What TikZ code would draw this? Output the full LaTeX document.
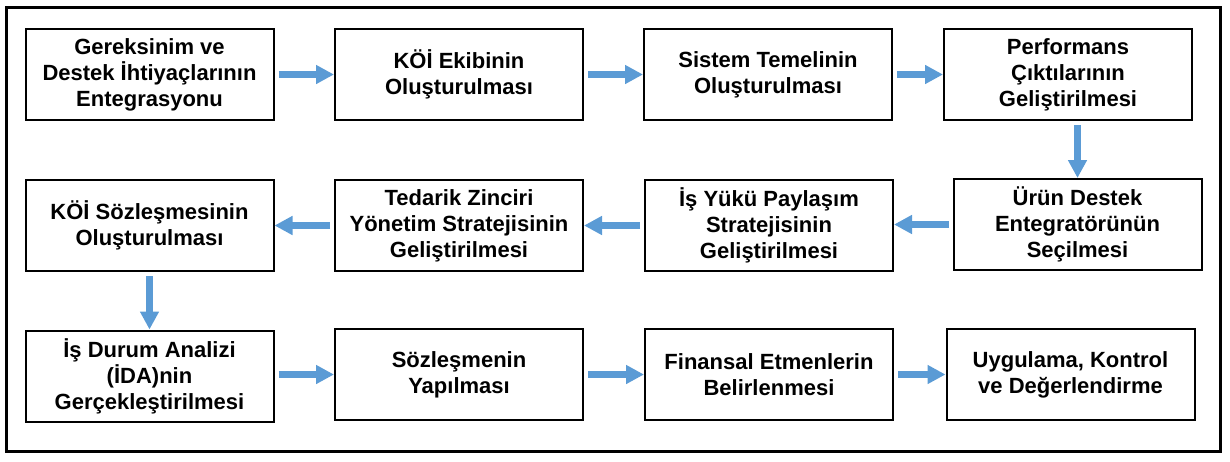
\documentclass[tikz,border=0pt]{standalone}
\usepackage{fontspec}
\setmainfont{Liberation Sans}
\usetikzlibrary{arrows.meta}
\definecolor{flowblue}{RGB}{91,155,213}
\tikzset{>={Triangle[length=9pt,width=9pt]}}

\begin{document}
\begin{tikzpicture}[
    x=0.5pt,y=-0.5pt,
    step box/.style={draw,line width=1pt,minimum width=124pt,minimum height=45.5pt,
      align=center,font=\bfseries\fontsize{11pt}{13pt}\selectfont,inner sep=0pt},
    flow/.style={->,flowblue,line width=3.4pt,shorten <=2pt}
  ]
  \useasboundingbox (0,0) rectangle (1230,461);
  % frame
  \draw[line width=1.5pt] (6,7) rectangle (1220,451);
  % first row
  \node[step box] (needs) at (149.5,74.5) {Gereksinim ve\\Destek İhtiyaçlarının\\Entegrasyonu};
  \node[step box] (team) at (459,74.5) {KÖİ Ekibinin\\Oluşturulması};
  \node[step box] (base) at (768,74.5) {Sistem Temelinin\\Oluşturulması};
  \node[step box] (perf) at (1068,74.5) {Performans\\Çıktılarının\\Geliştirilmesi};
  % second row
  \node[step box] (integrator) at (1077.5,224.5) {Ürün Destek\\Entegratörünün\\Seçilmesi};
  \node[step box] (workload) at (769,225.5) {İş Yükü Paylaşım\\Stratejisinin\\Geliştirilmesi};
  \node[step box] (supply) at (459,225.5) {Tedarik Zinciri\\Yönetim Stratejisinin\\Geliştirilmesi};
  \node[step box] (contract) at (149.5,225.5) {KÖİ Sözleşmesinin\\Oluşturulması};
  % third row
  \node[step box] (analysis) at (149.5,376) {İş Durum Analizi\\(İDA)nin\\Gerçekleştirilmesi};
  \node[step box] (signing) at (459,374.5) {Sözleşmenin\\Yapılması};
  \node[step box] (finance) at (769,374.5) {Finansal Etmenlerin\\Belirlenmesi};
  \node[step box] (control) at (1070.5,374.5) {Uygulama, Kontrol\\ve Değerlendirme};
  % arrows
  \draw[flow] (needs) -- (team);
  \draw[flow] (team) -- (base);
  \draw[flow] (base) -- (perf);
  \draw[flow] (perf.south -| integrator) -- (integrator.north);
  \draw[flow] (integrator.west) -- (integrator.west -| workload.east);
  \draw[flow] (workload) -- (supply);
  \draw[flow] (supply) -- (contract);
  \draw[flow] (contract) -- (analysis);
  \draw[flow] (analysis.east |- signing) -- (signing.west);
  \draw[flow] (signing) -- (finance);
  \draw[flow] (finance) -- (control);
\end{tikzpicture}
\end{document}
